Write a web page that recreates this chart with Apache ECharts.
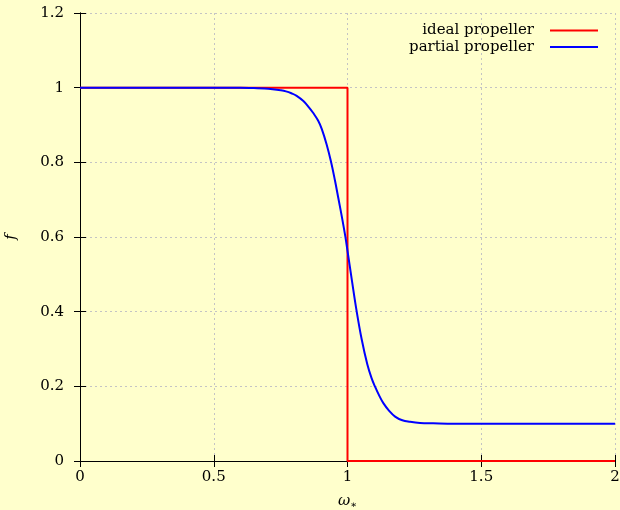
<!DOCTYPE html>
<html>
<head>
<meta charset="utf-8">
<script src="https://cdn.jsdelivr.net/npm/echarts@6/dist/echarts.min.js"></script>
<style>
html,body{margin:0;padding:0;background:#ffffcc;}
#chart{width:620px;height:510px;}
</style>
</head>
<body>
<div id="chart"></div>
<script>
// ---- data ----
const seriesNames = ['ideal propeller', 'partial propeller'];
const idealOmega = [0, 1, 1, 2];
const idealF     = [1, 1, 0, 0];
const partialOmega = [0, 0.5, 0.6, 0.65, 0.69, 0.72, 0.75, 0.77, 0.79, 0.81, 0.835, 0.855, 0.872, 0.89, 0.904, 0.922, 0.938, 0.953, 0.966, 0.981, 0.992, 1.0, 1.016, 1.034, 1.053, 1.074, 1.09, 1.103, 1.12, 1.134, 1.155, 1.178, 1.205, 1.234, 1.271, 1.32, 1.4, 1.5, 2.0];
const partialF     = [1, 1, 1, 0.999, 0.998, 0.996, 0.993, 0.990, 0.985, 0.978, 0.964, 0.948, 0.932, 0.912, 0.889, 0.848, 0.803, 0.752, 0.703, 0.646, 0.601, 0.563, 0.486, 0.402, 0.326, 0.259, 0.222, 0.199, 0.173, 0.155, 0.135, 0.119, 0.109, 0.105, 0.102, 0.101, 0.1, 0.1, 0.1];
const xTickLabels = ['0', '0.5', '1', '1.5', '2'];
const yTickLabels = ['0', '0.2', '0.4', '0.6', '0.8', '1', '1.2'];
const xTitle = 'ω';
const xTitleSub = '∗';
const yTitle = 'f';

// ---- chart ----
const FONT = 'DejaVu Serif';
const zip = (a, b) => a.map((v, i) => [v, b[i]]);
const xFmt = v => xTickLabels[Math.round(v / 0.5)] ?? '';
const yFmt = v => yTickLabels[Math.round(v / 0.2)] ?? '';

const gridLine = {show: true, lineStyle: {color: '#c4c4c4', type: [2, 3], width: 1}};
const axisLineStyle = {show: true, lineStyle: {color: '#000', width: 1}};

const chart = echarts.init(document.getElementById('chart'), null, {renderer: 'canvas'});
chart.setOption({
  backgroundColor: '#ffffcc',
  animation: false,
  textStyle: {fontFamily: FONT, color: '#000'},
  grid: {left: 80, right: 5, top: 13, bottom: 49, containLabel: false, outerBoundsMode: 'none'},
  legend: {
    orient: 'vertical',
    right: 22,
    top: 23,
    padding: 0,
    align: 'right',
    icon: 'rect',
    itemWidth: 48,
    itemHeight: 2,
    itemGap: 1.5,
    textStyle: {fontFamily: FONT, fontSize: 15, color: '#000', lineHeight: 14, padding: [0, 11, 0, 0]},
    data: seriesNames
  },
  xAxis: [{
    type: 'value', min: 0, max: 2, interval: 0.5, position: 'bottom',
    name: '{a|' + xTitle + '}{b|' + xTitleSub + '}',
    nameLocation: 'middle', nameGap: 31,
    nameTextStyle: {rich: {
      a: {fontFamily: FONT, fontStyle: 'italic', fontSize: 15, color: '#000'},
      b: {fontFamily: FONT, fontSize: 10, color: '#000', padding: [8, 0, 0, 0]}
    }},
    axisLine: axisLineStyle,
    axisTick: {show: true, inside: true, length: 6, lineStyle: {color: '#000'}},
    axisLabel: {formatter: xFmt, fontFamily: FONT, fontSize: 15, color: '#000', margin: 9},
    splitLine: gridLine
  }, {
    type: 'value', min: 0, max: 2, interval: 0.5, position: 'top',
    axisLine: axisLineStyle,
    axisTick: {show: true, inside: true, length: 6, lineStyle: {color: '#000'}},
    axisLabel: {show: false},
    splitLine: {show: false}
  }],
  yAxis: [{
    type: 'value', min: 0, max: 1.2, interval: 0.2, position: 'left',
    name: yTitle, nameLocation: 'middle', nameGap: 61, nameRotate: 90,
    nameTextStyle: {fontFamily: FONT, fontStyle: 'italic', fontSize: 15, color: '#000'},
    axisLine: axisLineStyle,
    axisTick: {show: true, inside: true, length: 6, lineStyle: {color: '#000'}},
    axisLabel: {formatter: yFmt, fontFamily: FONT, fontSize: 15, color: '#000', margin: 16},
    splitLine: gridLine
  }, {
    type: 'value', min: 0, max: 1.2, interval: 0.2, position: 'right',
    axisLine: axisLineStyle,
    axisTick: {show: true, inside: true, length: 6, lineStyle: {color: '#000'}},
    axisLabel: {show: false},
    splitLine: {show: false}
  }],
  series: [{
    name: seriesNames[0], type: 'line', data: zip(idealOmega, idealF),
    showSymbol: false, symbol: 'none', clip: false, z: 5,
    lineStyle: {color: '#ff0000', width: 2}, itemStyle: {color: '#ff0000'}
  }, {
    name: seriesNames[1], type: 'line', data: zip(partialOmega, partialF),
    showSymbol: false, symbol: 'none', clip: false, z: 6, smooth: 0.4,
    lineStyle: {color: '#0000ff', width: 2}, itemStyle: {color: '#0000ff'}
  }]
});
</script>
</body>
</html>
